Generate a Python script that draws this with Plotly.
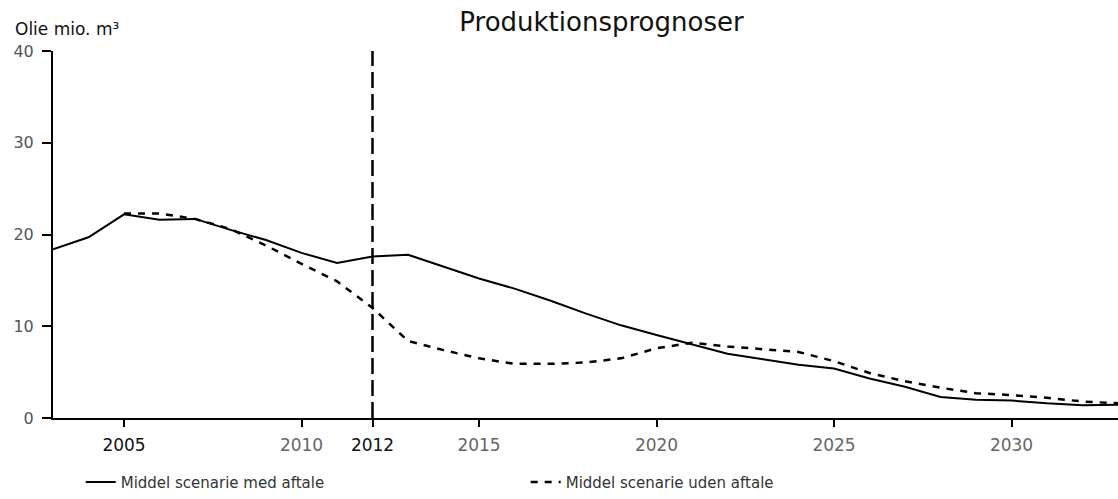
import plotly.graph_objects as go

years_med = list(range(2003, 2034))
med_aftale = [18.4, 19.7, 22.2, 21.6, 21.7, 20.5, 19.4, 18.0, 16.9, 17.6, 17.8,
              16.5, 15.2, 14.1, 12.8, 11.4, 10.1, 9.05, 8.0, 7.0, 6.4, 5.8, 5.4,
              4.3, 3.4, 2.3, 2.0, 1.9, 1.6, 1.4, 1.45]

years_uden = list(range(2005, 2034))
uden_aftale = [22.3, 22.3, 21.7, 20.6, 18.8, 16.8, 14.9, 12.0, 8.4, 7.4, 6.5,
               5.9, 5.9, 6.05, 6.5, 7.6, 8.2, 7.8, 7.5, 7.2, 6.2, 4.9, 4.0, 3.3,
               2.7, 2.5, 2.2, 1.8, 1.6]

x_ticks = [2005, 2010, 2012, 2015, 2020, 2025, 2030]
x_tick_labels = ["2005", "2010", "2012", "2015", "2020", "2025", "2030"]
x_tick_dark = [True, False, True, False, False, False, False]
y_ticks = [0, 10, 20, 30, 40]
marker_year = 2012

FONT = "DejaVu Sans"

x_ticktext = [
    f"<span style='color:{'#111' if d else '#666'}'>{t}</span>"
    for t, d in zip(x_tick_labels, x_tick_dark)
]

fig = go.Figure()
fig.add_trace(go.Scatter(x=years_med, y=med_aftale, mode="lines",
                         name="Middel scenarie med aftale",
                         line=dict(color="black", width=2)))
fig.add_trace(go.Scatter(x=years_uden, y=uden_aftale, mode="lines",
                         name="Middel scenarie uden aftale",
                         line=dict(color="black", width=2.5, dash="7px,7px")))

fig.add_shape(type="line", xref="x", yref="y", x0=marker_year, x1=marker_year,
              y0=0, y1=40, line=dict(color="black", width=2.5, dash="16px,6px"))

fig.update_layout(
    width=1118, height=499,
    margin=dict(l=53, r=0, t=51, b=76),
    paper_bgcolor="white", plot_bgcolor="white",
    font=dict(family=FONT, size=13, color="#333"),
    title=dict(text="Produktionsprognoser", x=0.538, xref="container",
               y=0.956, yanchor="middle", xanchor="center",
               font=dict(family=FONT, size=26, color="#111")),
    showlegend=True,
    legend=dict(orientation="h", x=0.026, y=-0.175, xanchor="left",
                yanchor="middle", font=dict(family=FONT, size=15, color="#333"),
                entrywidth=400, entrywidthmode="pixels",
                bgcolor="rgba(0,0,0,0)"),
    xaxis=dict(range=[2003, 2033], tickvals=x_ticks, ticktext=x_ticktext,
               ticks="outside", ticklen=7, tickcolor="black", tickwidth=1.5,
               showline=True, linecolor="black", linewidth=2, showgrid=False,
               zeroline=False, ticklabelstandoff=4,
               tickfont=dict(family=FONT, size=17, color="#444")),
    yaxis=dict(range=[0, 40], tickvals=y_ticks, ticks="outside",
               ticklen=9, tickcolor="black", tickwidth=1.5, showline=True,
               linecolor="black", linewidth=2, showgrid=False, zeroline=False,
               ticklabelstandoff=5,
               tickfont=dict(family=FONT, size=16, color="#555")),
)

fig.add_annotation(text="Olie mio. m³", xref="paper", yref="paper",
                   x=-0.038, y=1.06, xanchor="left", yanchor="middle",
                   showarrow=False, font=dict(family=FONT, size=17, color="#111"))

fig.write_html("out.html", config={"displayModeBar": False},
               post_script="document.body.style.margin='0px';")
